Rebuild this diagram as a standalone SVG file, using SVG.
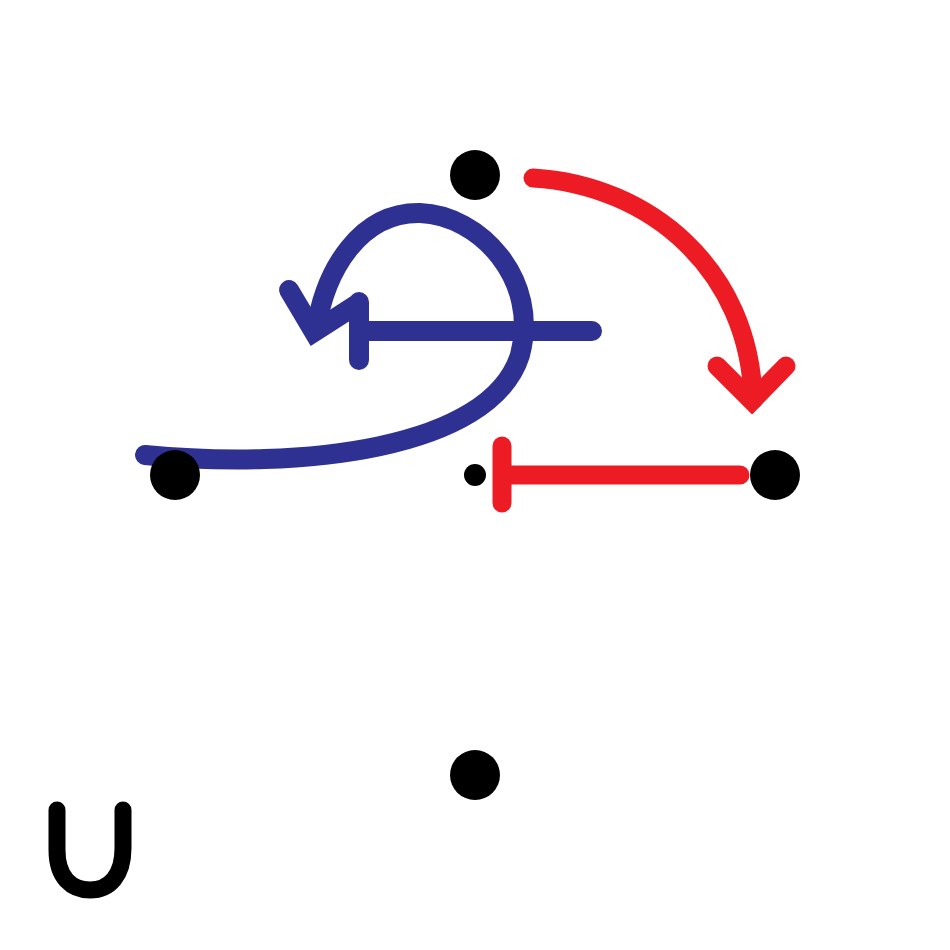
<svg xmlns="http://www.w3.org/2000/svg" width="950" height="950" viewBox="0 0 950 950">
<style>
.node{fill:#000}
.red{fill:none;stroke:#ed1c24;stroke-width:19;stroke-linecap:round;stroke-linejoin:miter}
.blue{fill:none;stroke:#2e3192;stroke-width:20;stroke-linecap:round;stroke-linejoin:miter}
</style>
<rect width="950" height="950" fill="#fff"/>
<g id="connectors">
<path class="red" d="M533,178 C650,185 750,270 753,400"/>
<path class="red" d="M717,366 L752,401 L786,366" stroke-linecap="butt"/>
<path class="red" d="M740,475 L502,475 M502,446 L502,503"/>
<path class="blue" d="M145,455 C300,470 490,450 520,355 C540,280 480,215 420,213 C360,212 325,270 316,330"/>
<path class="blue" d="M289,290 L314,332 L356,305" stroke-linecap="butt"/>
<path class="blue" d="M592,331 L359,331 M359,302 L359,360"/>
</g>
<g id="n-top"><circle class="node" cx="475" cy="175" r="25"/></g>
<g id="n-left"><circle class="node" cx="175" cy="475" r="25"/></g>
<g id="n-right"><circle class="node" cx="775" cy="475" r="25"/></g>
<g id="n-bottom"><circle class="node" cx="475" cy="775" r="25"/></g>
<g id="n-center"><circle class="node" cx="475" cy="475" r="11"/></g>
<g id="symbol"><path d="M57,810 L57,850 C57,878 72,890 90,890 C110,890 123,875 123,848 L123,810" fill="none" stroke="#000" stroke-width="17" stroke-linecap="round"/></g>
</svg>
